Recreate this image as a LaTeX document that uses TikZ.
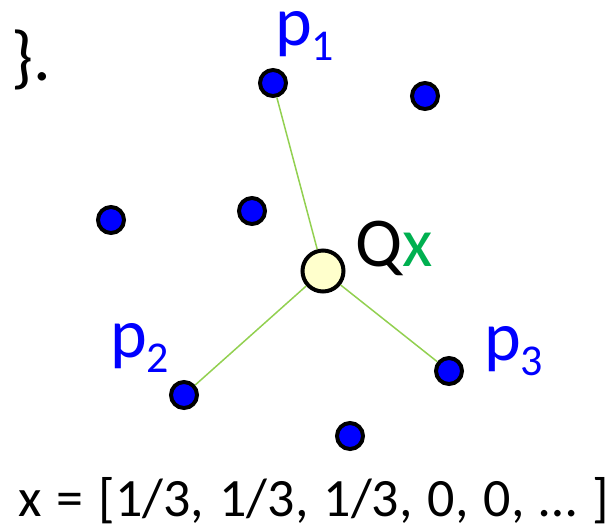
\documentclass[tikz,border=0pt]{standalone}
\usepackage{fontspec}
\setmainfont{Carlito}
\usetikzlibrary{positioning}
\definecolor{ptblue}{RGB}{0,0,255}
\definecolor{qyellow}{RGB}{255,255,204}
\definecolor{linkgreen}{RGB}{146,208,80}
\definecolor{xgreen}{RGB}{0,176,80}
\newcommand{\subidx}[1]{\raisebox{-15pt}{\fontsize{44}{50}\selectfont #1}}
\newcommand{\widespace}{\spaceskip=0.28em\relax}
\begin{document}
\begin{tikzpicture}[x=1pt,y=-1pt,
  pt/.style={circle,draw=black,fill=ptblue,line width=4pt,inner sep=0pt,minimum size=26pt},
  qpt/.style={circle,draw=black,fill=qyellow,line width=4pt,inner sep=0pt,minimum size=41pt},
  link/.style={draw=linkgreen,line width=1.5pt},
  lbl/.style={anchor=base west,inner sep=0pt,font=\fontsize{70}{80}\selectfont},
  vec/.style={anchor=base west,inner sep=0pt,font=\fontsize{54}{60}\selectfont}]
\useasboundingbox (0,0) rectangle (612,528);
\node[pt] (p1) at (273,83) {};
\node[pt] (a) at (425,96) {};
\node[pt] (b) at (111,220) {};
\node[pt] (c) at (252,211) {};
\node[pt] (p2) at (184,395) {};
\node[pt] (p3) at (449,371) {};
\node[pt] (d) at (350,436) {};
\node[qpt] (q) at (323,271) {};
\draw[link] (q) -- (p1);
\draw[link] (q) -- (p2);
\draw[link] (q) -- (p3);
\node[lbl,text=ptblue] (p1lbl) at (275,45) {p\subidx{1}};
\node[lbl,text=ptblue] (p2lbl) at (110,357) {p\subidx{2}};
\node[lbl,text=ptblue] (p3lbl) at (484,360) {p\subidx{3}};
\node[lbl] (qlbl) at (355,266) {Q\textcolor{xgreen}{x}};
\node[lbl] (brace) at (11,80) {\}.};
\node[vec] (xvec) at (18,516) {\widespace x = [1/3, 1/3, 1/3, 0, 0, … ]};
\end{tikzpicture}
\end{document}
